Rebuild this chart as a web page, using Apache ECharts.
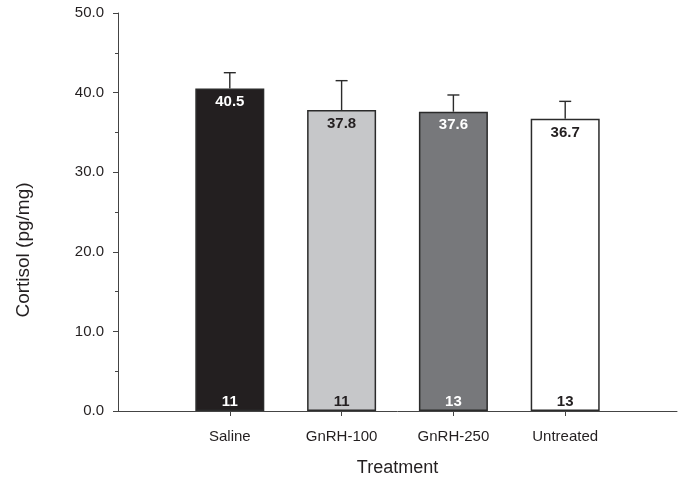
<!DOCTYPE html>
<html>
<head>
<meta charset="utf-8">
<script src="https://cdn.jsdelivr.net/npm/echarts@6/dist/echarts.min.js"></script>
<style>
  html, body { margin: 0; padding: 0; background: #fff; }
  #chart { width: 683px; height: 482px; }
</style>
</head>
<body>
<div id="chart"></div>
<script>
// Cortisol by treatment group (mean + SE, n per group)
const categories = ['Saline', 'GnRH-100', 'GnRH-250', 'Untreated'];
const cortisolMeans = [40.5, 37.8, 37.6, 36.7];
const errorUpper = [42.5, 41.5, 39.7, 38.9];
const sampleSizes = [11, 11, 13, 13];

// Per-group styling
const barFills = ['#231f20', '#c6c7c9', '#77787b', '#ffffff'];
const labelColors = ['#ffffff', '#231f20', '#ffffff', '#231f20'];

const FONT = '"Liberation Sans", Arial, Helvetica, sans-serif';
const INK = '#231f20';

// Padded category axis: empty slots at both ends so groups sit at 1..4
const axisCats = [''].concat(categories, ['']);
const pad = (arr) => [null].concat(arr, [null]);

const chart = echarts.init(document.getElementById('chart'), null, { renderer: 'canvas' });

const barData = pad(cortisolMeans).map((v, i) => {
  if (v === null) return null;
  const g = i - 1;
  return {
    value: v,
    itemStyle: { color: barFills[g], borderColor: '#2b2b2b', borderWidth: 1.5 },
    label: { color: labelColors[g] }
  };
});

const errData = categories.map((c, g) => [g + 1, cortisolMeans[g], errorUpper[g]]);
const nData = categories.map((c, g) => [g + 1, 0, sampleSizes[g], g]);

chart.setOption({
  animation: false,
  backgroundColor: '#ffffff',
  grid: { left: 118, right: 6, top: 13, bottom: 69, containLabel: false },
  graphic: [
    {
      // y-axis title, set a little below the axis midpoint
      type: 'text',
      x: 24,
      y: 250,
      rotation: Math.PI / 2,
      style: {
        text: 'Cortisol (pg/mg)',
        font: '19px ' + FONT,
        fill: INK,
        align: 'center',
        verticalAlign: 'middle'
      }
    }
  ],
  xAxis: {
    type: 'category',
    data: axisCats,
    boundaryGap: false,
    name: 'Treatment',
    nameLocation: 'middle',
    nameGap: 48,
    nameTextStyle: { fontFamily: FONT, fontSize: 18, color: INK },
    axisLine: { lineStyle: { color: '#444', width: 1 } },
    axisTick: {
      length: 5,
      lineStyle: { color: '#444' },
      interval: (idx) => idx > 0 && idx < axisCats.length - 1
    },
    axisLabel: {
      interval: 0,
      margin: 18,
      fontFamily: FONT,
      fontSize: 15,
      color: INK
    },
    splitLine: { show: false }
  },
  yAxis: {
    type: 'value',
    min: 0,
    max: 50,
    interval: 10,
    axisLine: { show: true, lineStyle: { color: '#444', width: 1 } },
    axisTick: { show: true, length: 5, lineStyle: { color: '#444' } },
    minorTick: { show: true, splitNumber: 2, length: 3, lineStyle: { color: '#444' } },
    axisLabel: {
      margin: 14,
      fontFamily: FONT,
      fontSize: 15,
      color: INK,
      formatter: (v) => v.toFixed(1)
    },
    splitLine: { show: false },
    minorSplitLine: { show: false }
  },
  series: [
    {
      type: 'bar',
      data: barData,
      barWidth: 69,
      z: 2,
      label: {
        show: true,
        position: 'insideTop',
        distance: 6,
        fontFamily: FONT,
        fontSize: 15,
        fontWeight: 'bold',
        formatter: (p) => Number(p.value).toFixed(1)
      }
    },
    {
      // upper error bars with caps
      type: 'custom',
      data: errData,
      z: 1,
      renderItem: (params, api) => {
        const x = api.value(0);
        const base = api.coord([x, api.value(1)]);
        const top = api.coord([x, api.value(2)]);
        const half = 6;
        const style = { stroke: '#2b2b2b', lineWidth: 1.4 };
        return {
          type: 'group',
          children: [
            { type: 'line', shape: { x1: base[0], y1: base[1], x2: top[0], y2: top[1] }, style },
            { type: 'line', shape: { x1: top[0] - half, y1: top[1], x2: top[0] + half, y2: top[1] }, style }
          ]
        };
      }
    },
    {
      // group sizes written at the foot of each bar
      type: 'custom',
      data: nData,
      z: 3,
      renderItem: (params, api) => {
        const p = api.coord([api.value(0), api.value(1)]);
        const g = api.value(3);
        return {
          type: 'text',
          x: p[0],
          y: p[1] - 9,
          style: {
            text: String(api.value(2)),
            fill: labelColors[g],
            font: 'bold 15px ' + FONT,
            align: 'center',
            verticalAlign: 'middle'
          }
        };
      }
    }
  ]
});
</script>
</body>
</html>
